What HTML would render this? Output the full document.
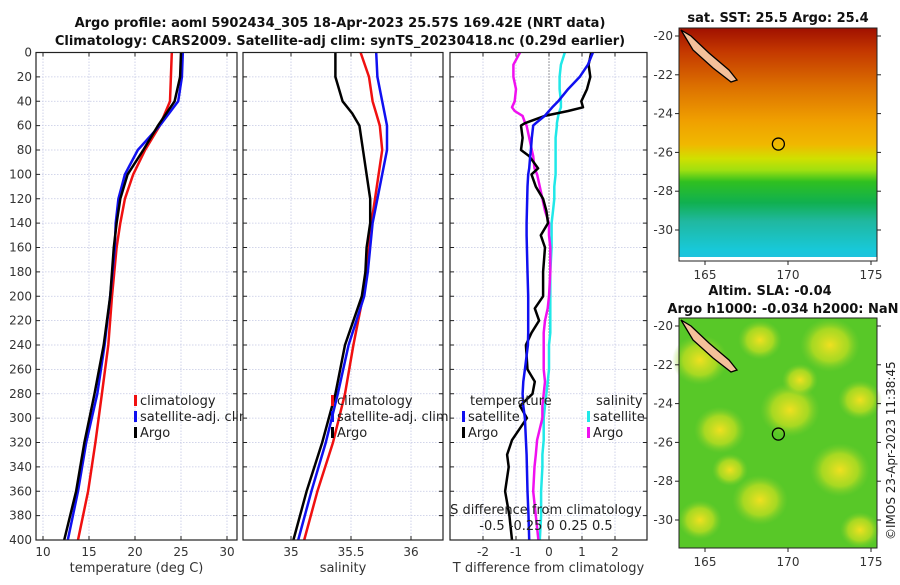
<!DOCTYPE html>
<html><head><meta charset="utf-8"><style>
body{margin:0;background:#fff;width:900px;height:580px;overflow:hidden;font-family:"Liberation Sans","DejaVu Sans",sans-serif}
svg text{font-family:"DejaVu Sans","Liberation Sans",sans-serif}
</style></head><body>
<svg id="fig" width="900" height="580" xmlns="http://www.w3.org/2000/svg">
<defs>
<linearGradient id="sstg" x1="0" y1="0" x2="0" y2="1">
<stop offset="0" stop-color="#a01000"/><stop offset="0.1" stop-color="#c43800"/><stop offset="0.25" stop-color="#dc7000"/><stop offset="0.4" stop-color="#f0a000"/><stop offset="0.5" stop-color="#f0b800"/><stop offset="0.56" stop-color="#d0e000"/><stop offset="0.61" stop-color="#a0e010"/><stop offset="0.66" stop-color="#30c020"/><stop offset="0.75" stop-color="#10b050"/><stop offset="0.83" stop-color="#20b8a0"/><stop offset="0.95" stop-color="#18c8d8"/><stop offset="1" stop-color="#20c0e0"/>
</linearGradient>
<radialGradient id="yb"><stop offset="0" stop-color="#f0e020"/><stop offset="0.6" stop-color="#c8e020" stop-opacity="0.7"/><stop offset="1" stop-color="#80d030" stop-opacity="0"/></radialGradient>
</defs>
<g id="axes"></g>
</svg>
<script>
// ---- data ----
const depths=[0,20,40,60,80,100,120,140,160,200,240,280,320,360,400];
const tempClim=[24.0,23.9,23.8,22.7,21.1,19.8,18.9,18.4,18.0,17.5,17.1,16.4,15.7,14.9,13.8];
const tempSat=[25.2,25.1,24.7,22.7,20.3,18.9,18.2,17.9,17.8,17.3,16.7,15.9,14.7,13.8,12.7];
const tempArgo=[25.0,24.9,24.3,22.5,20.9,19.2,18.4,18.0,17.7,17.3,16.6,15.6,14.5,13.6,12.3];
const salDepths=[0,20,40,50,60,80,100,120,140,160,180,200,240,280,320,360,400];
const salClim=[35.58,35.65,35.68,35.71,35.74,35.76,35.73,35.70,35.67,35.65,35.63,35.60,35.52,35.45,35.35,35.22,35.11];
const salSat=[35.71,35.72,35.76,35.78,35.80,35.80,35.76,35.72,35.68,35.66,35.64,35.61,35.48,35.39,35.29,35.17,35.06];
const salArgo=[35.37,35.37,35.43,35.51,35.57,35.60,35.63,35.66,35.66,35.63,35.62,35.59,35.45,35.37,35.26,35.13,35.02];
const dDepths=[0,10,20,30,40,45,48,52,58,60,70,80,85,95,100,110,120,130,140,150,160,180,200,210,220,230,240,260,270,280,290,300,318,330,340,360,380,400];
const dTsat=[1.33,1.18,0.93,0.58,0.28,0.1,0.0,-0.13,-0.4,-0.48,-0.52,-0.55,-0.57,-0.6,-0.63,-0.65,-0.66,-0.67,-0.68,-0.68,-0.67,-0.65,-0.63,-0.63,-0.63,-0.63,-0.64,-0.73,-0.78,-0.8,-0.78,-0.73,-0.7,-0.68,-0.67,-0.65,-0.62,-0.6];
const dTargo=[1.28,1.2,1.25,1.15,0.98,1.03,0.58,-0.13,-0.73,-0.85,-0.8,-0.85,-0.6,-0.33,-0.53,-0.4,-0.18,-0.08,-0.03,-0.25,-0.12,-0.18,-0.18,-0.43,-0.3,-0.53,-0.7,-0.65,-0.43,-0.5,-0.88,-0.67,-1.12,-1.27,-1.22,-1.33,-1.2,-1.12];
const dSargo=[-0.22,-0.27,-0.27,-0.25,-0.26,-0.28,-0.26,-0.2,-0.18,-0.17,-0.15,-0.13,-0.12,-0.11,-0.09,-0.07,-0.05,-0.03,0.0,0.0,0.01,0.01,0.0,-0.01,-0.03,-0.04,-0.04,-0.04,-0.03,-0.04,-0.05,-0.05,-0.09,-0.10,-0.11,-0.12,-0.1,-0.08];
const dSsat=[0.12,0.09,0.08,0.08,0.09,0.09,0.08,0.07,0.06,0.06,0.05,0.05,0.05,0.05,0.05,0.04,0.04,0.03,0.02,0.02,0.02,0.01,0.01,0.01,0.01,0.01,0.0,0.0,-0.01,-0.02,-0.03,-0.04,-0.04,-0.05,-0.05,-0.06,-0.06,-0.07];
const depthTicks=[0,20,40,60,80,100,120,140,160,180,200,220,240,260,280,300,320,340,360,380,400];
const tTicks=[10,15,20,25,30];
const sTicks=[35,35.5,36];
const dTicks=[-2,-1,0,1,2];
const latTicks=[-20,-22,-24,-26,-28,-30];
const lonTicks=[165,170,175];

const NS="http://www.w3.org/2000/svg";
const svg=document.getElementById('axes');
function el(tag,attrs,parent,txt){const e=document.createElementNS(NS,tag);for(const k in attrs)e.setAttribute(k,attrs[k]);if(txt!==undefined)e.textContent=txt;(parent||svg).appendChild(e);return e;}
const Y0=52.5,Y1=540;
const yD=d=>Y0+d*(Y1-Y0)/400;
const xT=t=>43+(t-10)*9.2;
const xS=s=>291+(s-35)*120;
const xDT=v=>549+v*33;
const xDS=s=>549+s*132;

function panel(name,x0,x1,xt,ticks,fmt,xlabel,showY){
  const g=el('g',{});
  
  
  el('rect',{x:x0,y:Y0,width:x1-x0,height:Y1-Y0,fill:'#fff'},g);
  depthTicks.forEach(d=>{el('line',{x1:x0,x2:x1,y1:yD(d),y2:yD(d),stroke:'#c4c8e4','stroke-dasharray':'1.5,1.5','stroke-width':0.8},g);
    el('line',{x1:x0,x2:x0+4,y1:yD(d),y2:yD(d),stroke:'#222'},g);el('line',{x1:x1-4,x2:x1,y1:yD(d),y2:yD(d),stroke:'#222'},g);
    if(showY){el('text',{x:x0-4,y:yD(d)+4,'text-anchor':'end','font-size':12,fill:'#333'},g,String(d));}});
  ticks.forEach(v=>{const x=xt(v);el('line',{x1:x,x2:x,y1:Y0,y2:Y1,stroke:'#c4c8e4','stroke-dasharray':'1.5,1.5','stroke-width':0.8},g);
    el('line',{x1:x,x2:x,y1:Y1,y2:Y1-4,stroke:'#222'},g);el('line',{x1:x,x2:x,y1:Y0,y2:Y0+4,stroke:'#222'},g);
    el('text',{x:x,y:556,'text-anchor':'middle','font-size':12,fill:'#333'},g,fmt(v));});
  el('text',{x:(x0+x1)/2,y:572,'text-anchor':'middle','font-size':13,fill:'#333'},g,xlabel);
  return g;
}
function line(g,name,xs,ys,xf,col,w){
  const pts=xs.map((v,i)=>xf(v).toFixed(1)+','+yD(ys[i]).toFixed(1)).join(' ');
  const p=el('polyline',{points:pts,fill:'none',stroke:col,'stroke-width':w||2.5,'stroke-linejoin':'round'},g);
  
  
}
function frame(g,x0,x1){el('rect',{x:x0,y:Y0,width:x1-x0,height:Y1-Y0,fill:'none',stroke:'#222','stroke-width':1.2},g);}
function legItem(g,name,x,y,col,label){
  const it=el('g',{},g);
  
  
  el('rect',{x:x,y:y-10,width:3,height:11,fill:col},it);
  el('text',{x:x+6,y:y,'font-size':13,fill:'#222'},it,label);
}
// panel 1
const p1=panel('temperature-panel',36,237,xT,tTicks,String,'temperature (deg C)',true);
line(p1,'temp-climatology-line',tempClim,depths,xT,'#f01010');
line(p1,'temp-satellite-line',tempSat,depths,xT,'#1010f0');
line(p1,'temp-argo-line',tempArgo,depths,xT,'#000');
frame(p1,36,237);
legItem(p1,'legend-climatology',134,405,'#f01010','climatology');
legItem(p1,'legend-satellite',134,421,'#1010f0','satellite-adj. clim');
legItem(p1,'legend-argo',134,437,'#000','Argo');
// panel 2
const p2=panel('salinity-panel',243,443,xS,sTicks,v=>String(v),'salinity',false);
line(p2,'sal-climatology-line',salClim,salDepths,xS,'#f01010');
line(p2,'sal-satellite-line',salSat,salDepths,xS,'#1010f0');
line(p2,'sal-argo-line',salArgo,salDepths,xS,'#000');
frame(p2,243,443);
legItem(p2,'legend-climatology-sal',331,405,'#f01010','climatology');
legItem(p2,'legend-satellite-sal',331,421,'#1010f0','satellite-adj. clim');
legItem(p2,'legend-argo-sal',331,437,'#000','Argo');
// panel 3
const p3=panel('difference-panel',450,647,xDT,dTicks,String,'T difference from climatology',false);
el('line',{x1:549,x2:549,y1:Y0,y2:Y1,stroke:'#444','stroke-dasharray':'1,2','stroke-width':1},p3);
line(p3,'sdiff-satellite-line',dSsat,dDepths,xDS,'#20e8e8');
line(p3,'sdiff-argo-line',dSargo,dDepths,xDS,'#f010f0');
line(p3,'tdiff-argo-line',dTargo,dDepths,xDT,'#000');
line(p3,'tdiff-satellite-line',dTsat,dDepths,xDT,'#1010f0');
frame(p3,450,647);
el('text',{x:470,y:405,'font-size':13,fill:'#222'},p3,'temperature');
legItem(p3,'legend-tdiff-satellite',462,421,'#1010f0','satellite');
legItem(p3,'legend-tdiff-argo',462,437,'#000','Argo');
el('text',{x:596,y:405,'font-size':13,fill:'#222'},p3,'salinity');
legItem(p3,'legend-sdiff-satellite',587,421,'#20e8e8','satellite');
legItem(p3,'legend-sdiff-argo',587,437,'#f010f0','Argo');
el('text',{x:546,y:514,'text-anchor':'middle','font-size':13,fill:'#222'},p3,'S difference from climatology');
el('text',{x:546,y:530,'text-anchor':'middle','font-size':13,fill:'#222'},p3,'-0.5 -0.25  0   0.25  0.5');
// titles
el('text',{x:340,y:27,'text-anchor':'middle','font-size':13,'font-weight':'bold',fill:'#111'},svg,'Argo profile: aoml 5902434_305 18-Apr-2023 25.57S 169.42E (NRT data)');
el('text',{x:340,y:45,'text-anchor':'middle','font-size':13,'font-weight':'bold',fill:'#111'},svg,'Climatology: CARS2009. Satellite-adj clim: synTS_20230418.nc (0.29d earlier)');

// maps
function map(name,y0,y1,latTop,kind){
  const g=el('g',{});
  
  
  const x0=679,x1=877,ppd=19.4;
  const xl=lon=>705+(lon-165)*16.6;
  if(kind==='sst'){el('rect',{x:x0,y:y0,width:x1-x0,height:y1-y0,fill:'url(#sstg)'},g);
    el('rect',{x:x0,y:y1-4,width:x1-x0,height:4,fill:'#fff'},g);}
  else{el('rect',{x:x0,y:y0,width:x1-x0,height:y1-y0,fill:'#58c828'},g);
    [[700,360,28],[760,340,22],[830,345,30],[790,410,30],[860,400,22],[720,430,26],[840,470,30],[760,500,28],[700,520,22],[860,530,20],[800,380,18],[730,470,18]].forEach(b=>el('ellipse',{cx:b[0],cy:b[1]-318+y0,rx:b[2],ry:b[2]*0.9,fill:'url(#yb)'},g));}
  const yl=lat=>y0+8+(latTop-lat)*ppd;
  el('polygon',{points:`${x0+2},${y0+2} ${x0+12},${y0+8} ${x0+30},${y0+25} ${x0+50},${y0+42} ${x0+58},${y0+52} ${x0+52},${y0+54} ${x0+34},${y0+40} ${x0+14},${y0+22}`,fill:'#f4c09a',stroke:'#000','stroke-width':1.3},g);
  el('circle',{cx:xl(169.42),cy:yl(-25.57),r:6,fill:'none',stroke:'#000','stroke-width':1.3},g);
  el('rect',{x:x0,y:y0,width:x1-x0,height:y1-y0,fill:'none',stroke:'#222','stroke-width':1},g);
  latTicks.forEach(l=>{const y=yl(l);el('line',{x1:x0-4,x2:x0,y1:y,y2:y,stroke:'#222'},g);el('line',{x1:x1,x2:x1+4,y1:y,y2:y,stroke:'#222'},g);
    el('text',{x:x0-6,y:y+4,'text-anchor':'end','font-size':12,fill:'#333'},g,String(l));});
  lonTicks.forEach(l=>{const x=xl(l);el('line',{x1:x,x2:x,y1:y1,y2:y1+4,stroke:'#222'},g);
    el('text',{x:x,y:y1+18,'text-anchor':'middle','font-size':12,fill:'#333'},g,String(l));});
}
map('sst-map',28,261,-20,'sst');
map('sla-map',318,548,-20,'sla');
el('text',{x:778,y:22,'text-anchor':'middle','font-size':13,'font-weight':'bold',fill:'#111'},svg,'sat. SST: 25.5 Argo: 25.4');
el('text',{x:770,y:295,'text-anchor':'middle','font-size':13,'font-weight':'bold',fill:'#111'},svg,'Altim. SLA: -0.04');
el('text',{x:783,y:313,'text-anchor':'middle','font-size':13,'font-weight':'bold',fill:'#111'},svg,'Argo h1000: -0.034 h2000: NaN');
const cp=el('text',{x:0,y:0,'font-size':12,fill:'#222',transform:'translate(895,540) rotate(-90)'},svg,'©IMOS 23-Apr-2023 11:38:45');


</script>
</body></html>
